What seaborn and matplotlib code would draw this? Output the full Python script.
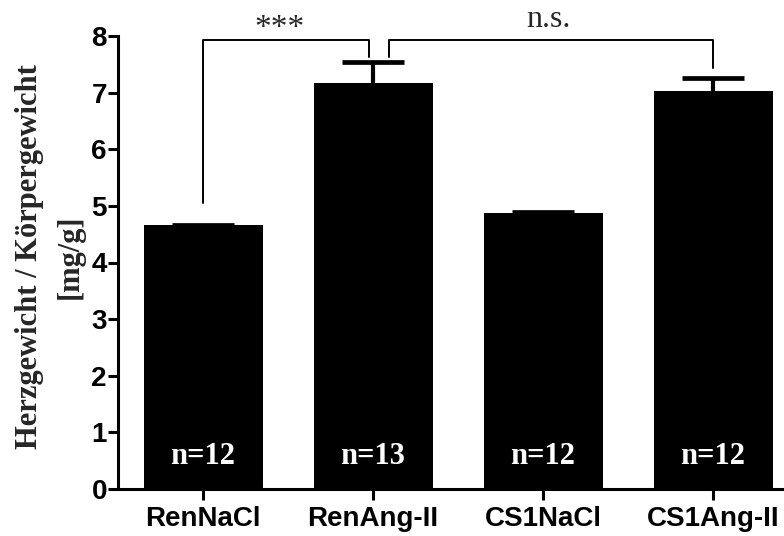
import numpy as np
import pandas as pd
import matplotlib
matplotlib.use("Agg")
import matplotlib.pyplot as plt
import seaborn as sns

categories = ["RenNaCl", "RenAng-II", "CS1NaCl", "CS1Ang-II"]
means = [4.66, 7.17, 4.87, 7.03]
sems = [0.01, 0.37, 0.03, 0.23]
n_labels = ["n=12", "n=13", "n=12", "n=12"]
yticks = [0, 1, 2, 3, 4, 5, 6, 7, 8]

sns.set_theme(style="white")
plt.rcParams["font.family"] = ["Liberation Sans", "DejaVu Sans"]

fig = plt.figure(figsize=(7.84, 5.36), dpi=100)
ax = fig.add_axes([118/784, 1-489/536, 680/784, (489-36)/536])

df = pd.DataFrame({"cat": categories, "val": means})
sns.barplot(data=df, x="cat", y="val", color="black", saturation=1, width=0.7,
            edgecolor="black", linewidth=0, ax=ax, errorbar=None)

x = np.arange(len(categories))
eb = ax.errorbar(x, means, yerr=[np.zeros(len(sems)), sems], fmt="none",
                 ecolor="black", elinewidth=3, capsize=22, capthick=3.4, zorder=5)
caplines = eb[1]
if len(caplines) == 2:
    caplines[0].set_visible(False)

ax.set_xlim(-0.5, 3.5)
ax.set_ylim(0, 8)
ax.set_yticks(yticks)
ax.set_yticklabels([str(t) for t in yticks], fontsize=20, fontweight="bold")
ax.set_xticks(x)
ax.set_xticklabels(categories, fontsize=20, fontweight="bold")
ax.set_xlabel("")
ax.set_ylabel("")

for s in ["top", "right"]:
    ax.spines[s].set_visible(False)
for s in ["left", "bottom"]:
    ax.spines[s].set_visible(True)
    ax.spines[s].set_color("black")
    ax.spines[s].set_linewidth(2.2)
ax.tick_params(axis="y", direction="out", length=7, width=2.2, pad=1, colors="black", left=True)
ax.tick_params(axis="x", direction="out", length=8, width=2.2, pad=4, colors="black", bottom=True)

# n labels
for xi, lab in zip(x, n_labels):
    ax.text(xi, 0.58, lab, color="white", ha="center", va="center",
            fontsize=22, fontweight="bold", family=["Liberation Serif", "DejaVu Serif"])

# significance brackets
lw = 1.4
ytop = 7.93
ax.plot([0, 0, 0.976, 0.976], [5.05, ytop, ytop, 7.63], color="black", lw=lw, clip_on=False)
ax.plot([1.094, 1.094, 3.0, 3.0], [7.63, ytop, ytop, 7.43], color="black", lw=lw, clip_on=False)
ax.text(0.45, 8.12, "***", ha="center", va="center", fontsize=24,
        family=["Liberation Serif", "DejaVu Serif"], clip_on=False)
ax.text(2.03, 8.3, "n.s.", ha="center", va="center", fontsize=23,
        family=["Liberation Serif", "DejaVu Serif"], clip_on=False)

fig.text(50/784, 1-257/536, "Herzgewicht / Körpergewicht\n[mg/g]", rotation=90,
         ha="center", va="center", multialignment="center", fontsize=22,
         fontweight="bold", linespacing=1.5,
         family=["Liberation Serif", "DejaVu Serif"])

fig.savefig("out.png", dpi=100)
